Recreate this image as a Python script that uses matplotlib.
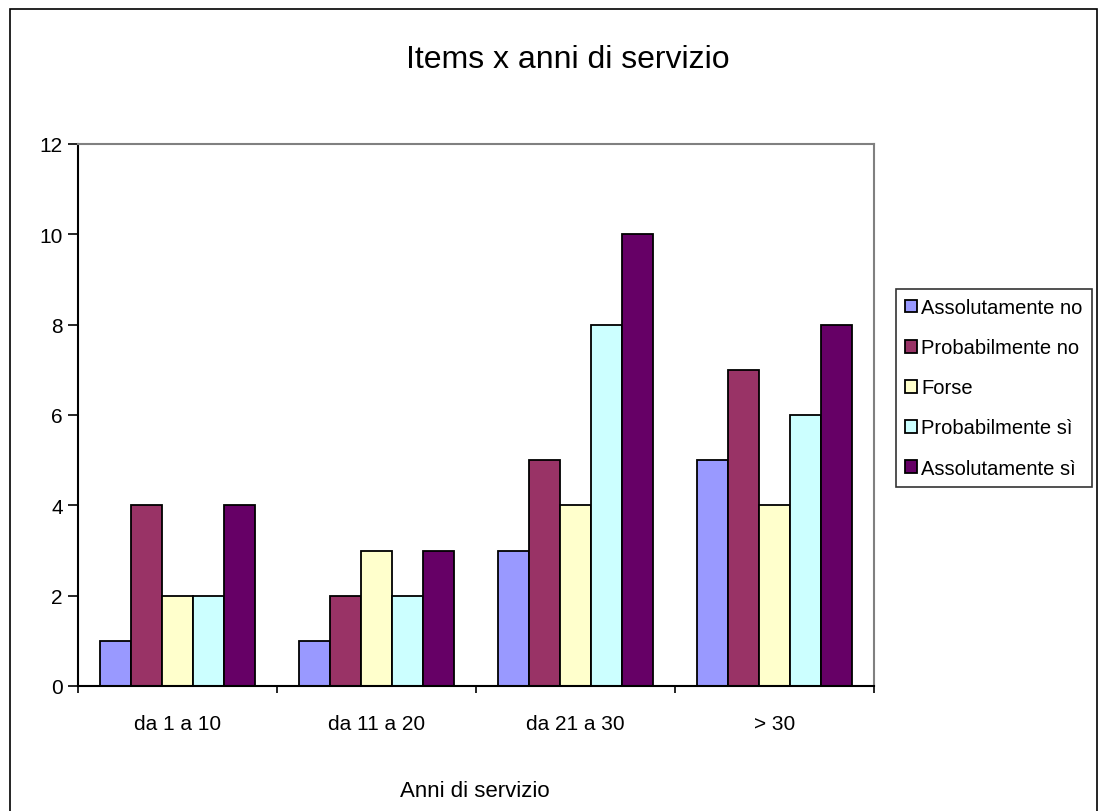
import numpy as np
import matplotlib
matplotlib.use('Agg')
import matplotlib.pyplot as plt
from matplotlib.patches import Rectangle

plt.rcParams['font.family'] = ['Liberation Sans', 'DejaVu Sans']

# Dati
categorie = ['da 1 a 10', 'da 11 a 20', 'da 21 a 30', '> 30']
serie = ['Assolutamente no', 'Probabilmente no', 'Forse', 'Probabilmente sì', 'Assolutamente sì']
ass_no = [1, 1, 3, 5]
prob_no = [4, 2, 5, 7]
forse = [2, 3, 4, 4]
prob_si = [2, 2, 8, 6]
ass_si = [4, 3, 10, 8]
valori = [ass_no, prob_no, forse, prob_si, ass_si]
colori = ['#9999FF', '#993366', '#FFFFCC', '#CCFFFF', '#660066']

fig = plt.figure(figsize=(11.09, 8.12), dpi=100)
ax = fig.add_axes([78 / 1109, 1 - 687 / 812, (874 - 78) / 1109, (687 - 145) / 812])

# bordo esterno del grafico
fig.patches.append(Rectangle((10 / 1109, -0.01), (1097 - 10) / 1109, 1 - 10 / 812 + 0.01,
                             transform=fig.transFigure, fill=False, edgecolor='black', lw=1.2))

x = np.arange(len(categorie))
w = 0.156
for i, (vals, col, nome) in enumerate(zip(valori, colori, serie)):
    ax.bar(x + (i - 2) * w, vals, width=w, color=col, edgecolor='black', lw=1.3, label=nome)

ax.set_xlim(-0.5, len(categorie) - 0.5)
ax.set_ylim(0, 12)
ax.set_yticks(range(0, 13, 2))
ax.set_xticks(x)
ax.set_xticklabels(categorie, fontsize=15)
ax.set_xticks(np.arange(-0.5, len(categorie)), minor=True)
ax.tick_params(axis='x', which='major', length=0, pad=20)
ax.tick_params(axis='x', which='minor', length=5, width=1.2, direction='out')
ax.tick_params(axis='y', labelsize=15, length=7, width=1.2, direction='out', pad=4)

for s in ['top', 'right']:
    ax.spines[s].set_color('#808080')
    ax.spines[s].set_linewidth(1.5)
for s in ['left', 'bottom']:
    ax.spines[s].set_color('black')
    ax.spines[s].set_linewidth(1.5)

fig.text(568 / 1109, 1 - 60 / 812, 'Items x anni di servizio', fontsize=23, ha='center', va='center')
fig.text(475 / 1109, 1 - 792 / 812, 'Anni di servizio', fontsize=16, ha='center', va='center')

leg = fig.legend(loc='upper left', bbox_to_anchor=(896 / 1109, 1 - 290 / 812), fontsize=14.5,
                 frameon=True, fancybox=False, edgecolor='black', handlelength=0.6, handleheight=0.6,
                 handletextpad=0.2, labelspacing=1.05, borderpad=0.45, borderaxespad=0)
leg.get_frame().set_linewidth(1.2)

fig.savefig('out.png', dpi=100)
